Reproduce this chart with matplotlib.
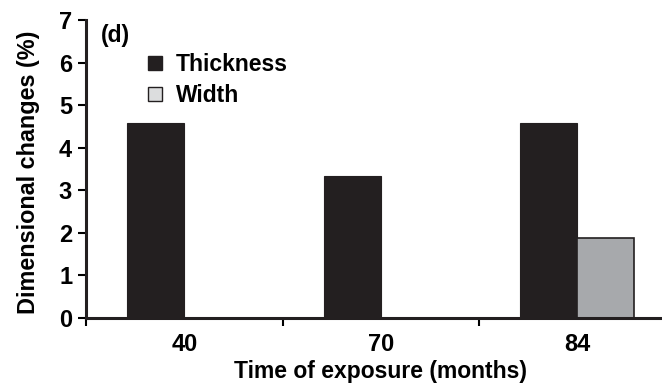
import numpy as np
import matplotlib.pyplot as plt
from matplotlib.patches import Patch

plt.rcParams['font.family'] = ['Liberation Sans', 'DejaVu Sans']
plt.rcParams['font.weight'] = 'bold'

months = ['40', '70', '84']
thickness = [4.58, 3.33, 4.59]
width = [0.0, 0.0, 1.88]

dark = '#231f20'
grey = '#a7a9ac'

fig = plt.figure(figsize=(6.62, 3.89), dpi=100)
ax = fig.add_axes([0.13, 0.1825, 0.8815 * 582 / 576, 0.7661])

x = np.arange(len(months))
w = 0.29
ax.bar(x - w / 2, thickness, w, color=dark, edgecolor=dark, linewidth=0.8)
ax.bar(x + w / 2, width, w, color=grey, edgecolor=dark, linewidth=1.2)

ax.set_xlim(-0.5, 2.5)
ax.set_ylim(0, 7)
ax.set_yticks(range(8))
ax.set_xticks(x)
ax.set_xticklabels(months)
ax.set_xticks(np.arange(-0.5, 3, 1), minor=True)
ax.tick_params(axis='x', which='major', length=0, pad=11, labelsize=17)
ax.tick_params(axis='x', which='minor', length=6, width=1.5, direction='out')
ax.tick_params(axis='y', length=6, width=1.5, pad=4, labelsize=17)

for s in ['top', 'right']:
    ax.spines[s].set_visible(False)
for s in ['left', 'bottom']:
    ax.spines[s].set_linewidth(2.2)
    ax.spines[s].set_color(dark)

ax.set_xlabel('Time of exposure (months)', fontsize=16.5, fontweight='bold', labelpad=3)
ax.set_ylabel('Dimensional changes (%)', fontsize=16.8, fontweight='bold')
ax.yaxis.set_label_coords(-0.078, 0.49)
ax.text(0.025, 0.985, '(d)', transform=ax.transAxes, fontsize=16.5, fontweight='bold', va='top')

handles = [Patch(facecolor=dark, edgecolor=dark, label='Thickness'),
           Patch(facecolor='#dcddde', edgecolor=dark, label='Width')]
ax.legend(handles=handles, loc='upper left', bbox_to_anchor=(0.09, 0.92), frameon=False,
          fontsize=16.5, handlelength=0.6, handleheight=0.6, handletextpad=0.6,
          labelspacing=0.35, borderaxespad=0)

fig.savefig('out.png', dpi=100)
